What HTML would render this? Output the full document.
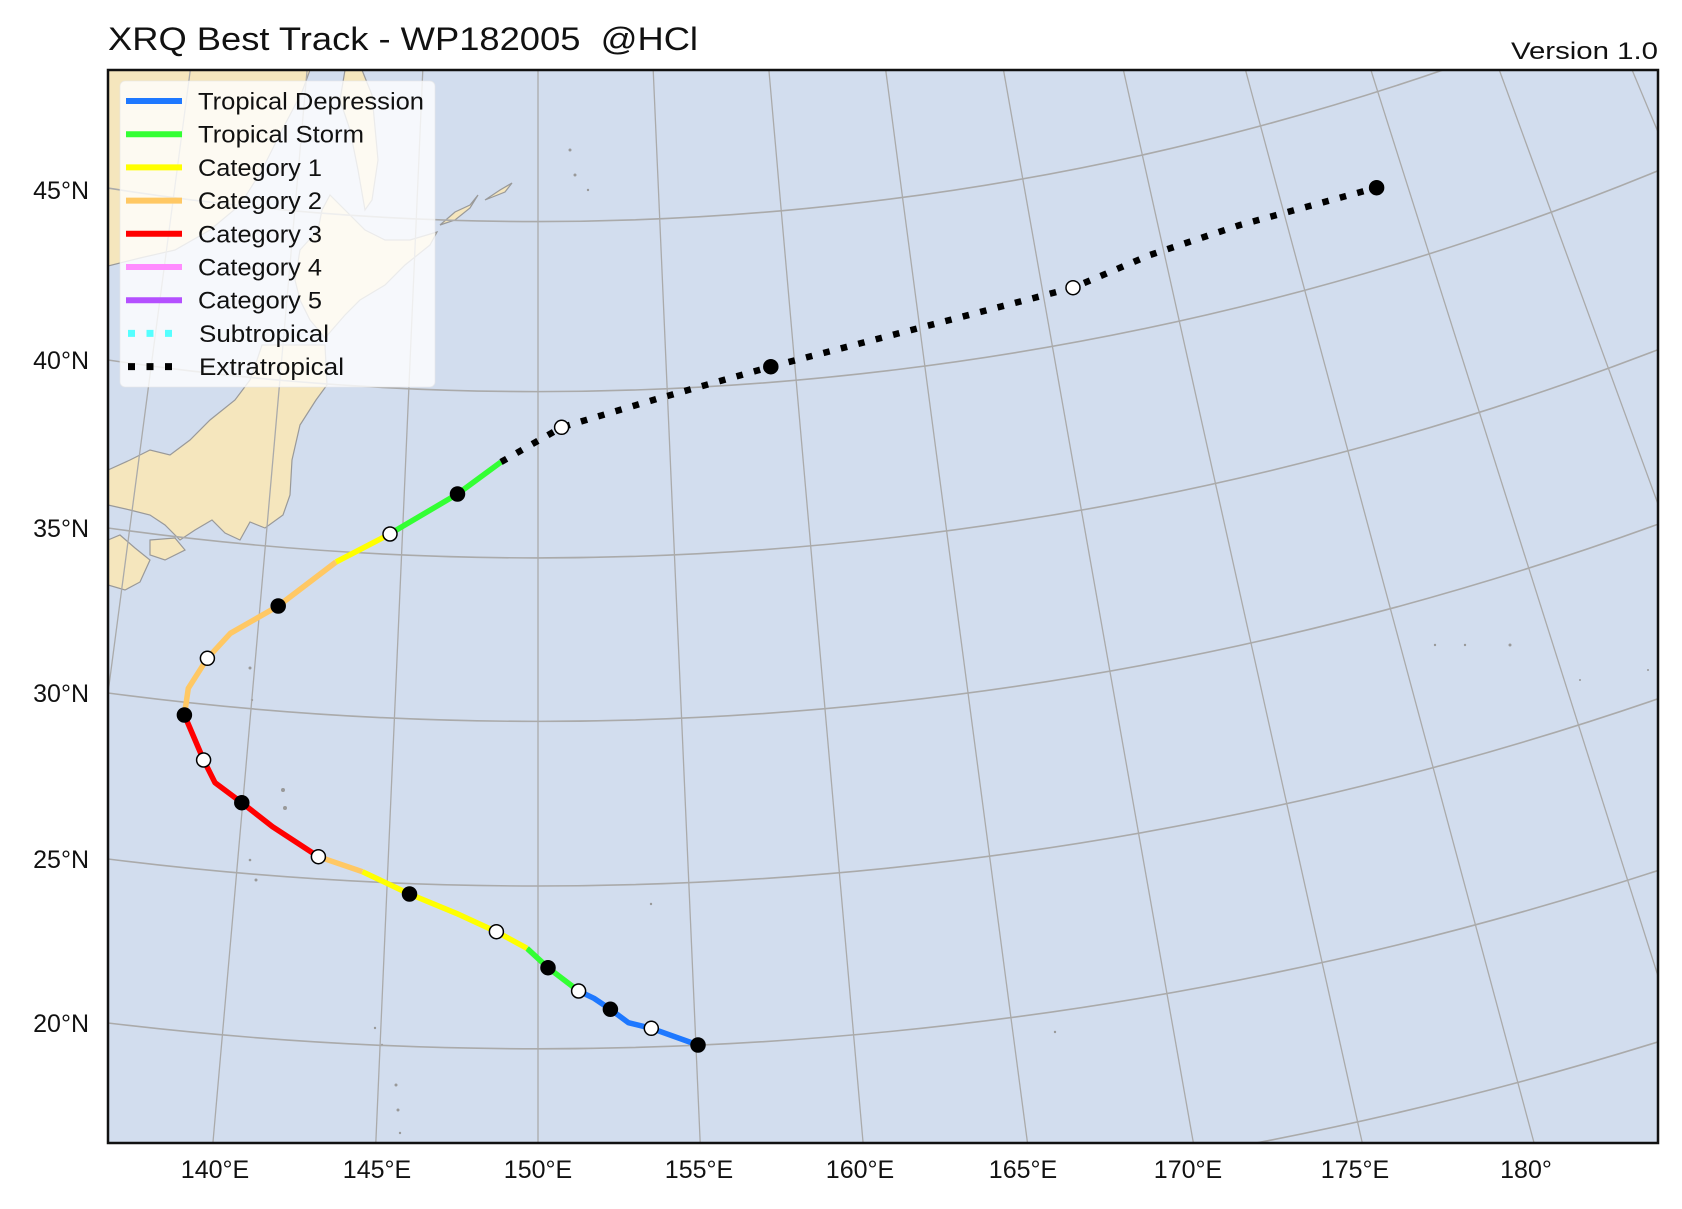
<!DOCTYPE html>
<html><head><meta charset="utf-8"><style>html,body{margin:0;padding:0;background:#fff;overflow:hidden;width:1682px;height:1209px}svg{display:block}text{font-family:"Liberation Sans",sans-serif}</style></head><body>
<svg width="1682" height="1209" viewBox="0 0 1682 1209" xmlns="http://www.w3.org/2000/svg">
<defs><clipPath id="c"><rect x="108" y="70" width="1550" height="1073"/></clipPath></defs>
<rect width="1682" height="1209" fill="#fff"/>
<g clip-path="url(#c)">
<rect x="108" y="70" width="1550" height="1073" fill="#d2ddee"/>
<g fill="#f5e6bd" stroke="#999" stroke-width="1.2">
<path d="M108,70 L310,70 L302,92 L282,130 L262,170 L240,205 L210,230 L175,250 L140,258 L108,266 Z"/>
<path d="M345,70 L362,70 L372,95 L378,160 L372,200 L365,210 L358,170 L350,130 L340,100 Z"/>
<path d="M330,195 L345,210 L365,230 L385,240 L410,240 L437,232 L430,245 L405,265 L385,285 L360,300 L345,315 L325,338 L310,320 L300,300 L295,280 L300,250 L318,230 L322,210 Z"/>
<path d="M440,225 L455,212 L470,205 L478,195 L470,208 L455,220 Z"/>
<path d="M485,200 L500,190 L512,183 L505,192 Z"/>
<path d="M262,345 L325,345 L327,385 L316,400 L300,425 L292,460 L290,495 L283,515 L265,528 L250,522 L240,540 L225,533 L212,520 L195,530 L180,540 L165,525 L150,515 L130,510 L108,505 L108,470 L130,460 L150,450 L170,455 L190,440 L210,420 L235,400 L250,380 L257,360 Z"/>
<path d="M108,540 L120,535 L135,548 L150,560 L140,582 L125,590 L108,585 Z"/>
<path d="M150,540 L175,538 L185,550 L165,560 L150,555 Z"/>
</g>
<g fill="#999">
<circle cx="250" cy="668" r="1.5"/><circle cx="252" cy="700" r="1.2"/><circle cx="283" cy="790" r="2"/><circle cx="285" cy="808" r="2"/><circle cx="250" cy="860" r="1.3"/><circle cx="256" cy="880" r="1.5"/><circle cx="651" cy="904" r="1.2"/><circle cx="1435" cy="645" r="1.2"/><circle cx="1465" cy="645" r="1.2"/><circle cx="1510" cy="645" r="1.5"/><circle cx="1580" cy="680" r="1"/><circle cx="1648" cy="670" r="1"/><circle cx="1055" cy="1032" r="1.2"/><circle cx="375" cy="1028" r="1.2"/><circle cx="382" cy="1045" r="1.2"/><circle cx="396" cy="1085" r="1.5"/><circle cx="398" cy="1110" r="1.5"/><circle cx="400" cy="1133" r="1.2"/><circle cx="570" cy="150" r="1.5"/><circle cx="575" cy="175" r="1.5"/><circle cx="588" cy="190" r="1.2"/>
</g>
<g fill="none" stroke="#aaa" stroke-width="1.6">
<path d="M108,188.1 A2781.5,2781.5 0 0 0 1443,70"/>
<path d="M108,360 A2951.5,2951.5 0 0 0 1658,170.8"/>
<path d="M108,528 A3117.8,3117.8 0 0 0 1658,349.7"/>
<path d="M108,693 A3281.3,3281.3 0 0 0 1658,524.2"/>
<path d="M108,859 A3445.9,3445.9 0 0 0 1658,698.8"/>
<path d="M108,1023 A3608.7,3608.7 0 0 0 1658,870.5"/>
<path d="M1256,1143 A3772,3772 0 0 0 1658,1041.9"/>
</g>
<g stroke="#aaa" stroke-width="1.3">
<line x1="190.3" y1="70" x2="108" y2="693"/>
<line x1="307.1" y1="70" x2="212.9" y2="1143"/>
<line x1="422.8" y1="70" x2="375.8" y2="1143"/>
<line x1="538" y1="70" x2="538" y2="1143"/>
<line x1="653.2" y1="70" x2="700.2" y2="1143"/>
<line x1="768.9" y1="70" x2="863.1" y2="1143"/>
<line x1="885.7" y1="70" x2="1027.5" y2="1143"/>
<line x1="1003.5" y1="70" x2="1193.4" y2="1143"/>
<line x1="1123.4" y1="70" x2="1362.3" y2="1143"/>
<line x1="1245.5" y1="70" x2="1534.1" y2="1143"/>
<line x1="1370.9" y1="70" x2="1658" y2="976"/>
<line x1="1499.3" y1="70" x2="1658" y2="504"/>
<line x1="1632.1" y1="70" x2="1658" y2="132"/>
</g>
<g fill="none" stroke-width="5.5" stroke-linejoin="round" stroke-linecap="butt">
<polyline stroke="#1e78ff" points="698,1045 651.3,1028.3 628.4,1022.7 610.4,1009.3 594,998.3 578.6,991"/>
<polyline stroke="#33ff33" points="578.6,991 548,967.7 527,948.3"/>
<polyline stroke="#ffff00" points="527,948.3 496.4,931.7 456.2,913.3 409.5,894 362.4,871.7"/>
<polyline stroke="#ffc864" points="362.4,871.7 318.4,856.7"/>
<polyline stroke="#ff0000" points="318.4,856.7 272.5,826.7 241.8,802.7 215,782.7 203.6,760 184.4,715"/>
<polyline stroke="#ffc864" points="184.4,715 188.3,688.3 207.4,658.3 230.4,633.3 278.2,606 336,562"/>
<polyline stroke="#ffff00" points="336,562 390,534 393,532"/>
<polyline stroke="#33ff33" points="393,532 457.5,494 501,462"/>
<polyline stroke="#000" stroke-width="6.5" stroke-dasharray="6.5 11.5" points="501,462 561.6,427.3 660,398 770.8,366.7 900,333 1073,287.7 1150,255 1240,225 1376.6,187.7"/>
</g>
<g stroke="#000" stroke-width="1.5">
<circle cx="698" cy="1045" r="7" fill="#000"/><circle cx="651.3" cy="1028.3" r="7" fill="#fff"/><circle cx="610.4" cy="1009.3" r="7" fill="#000"/><circle cx="578.6" cy="991" r="7" fill="#fff"/><circle cx="548" cy="967.7" r="7" fill="#000"/><circle cx="496.4" cy="931.7" r="7" fill="#fff"/><circle cx="409.5" cy="894" r="7" fill="#000"/><circle cx="318.4" cy="856.7" r="7" fill="#fff"/><circle cx="241.8" cy="802.7" r="7" fill="#000"/><circle cx="203.6" cy="760" r="7" fill="#fff"/><circle cx="184.4" cy="715" r="7" fill="#000"/><circle cx="207.4" cy="658.3" r="7" fill="#fff"/><circle cx="278.2" cy="606" r="7" fill="#000"/><circle cx="390" cy="534" r="7" fill="#fff"/><circle cx="457.5" cy="494" r="7" fill="#000"/><circle cx="561.6" cy="427.3" r="7" fill="#fff"/><circle cx="770.8" cy="366.7" r="7" fill="#000"/><circle cx="1073" cy="287.7" r="7" fill="#fff"/><circle cx="1376.6" cy="187.7" r="7" fill="#000"/>
</g>
<rect x="120" y="81" width="315" height="306" rx="5" fill="#fff" fill-opacity="0.8" stroke="#e6e6e6" stroke-opacity="0.6"/>
<g stroke-width="6">
<line x1="126" y1="101" x2="182" y2="101" stroke="#1e78ff"/>
<line x1="126" y1="134.2" x2="182" y2="134.2" stroke="#33ff33"/>
<line x1="126" y1="167.4" x2="182" y2="167.4" stroke="#ffff00"/>
<line x1="126" y1="200.6" x2="182" y2="200.6" stroke="#ffc864"/>
<line x1="126" y1="233.8" x2="182" y2="233.8" stroke="#ff0000"/>
<line x1="126" y1="267" x2="182" y2="267" stroke="#ff8cff"/>
<line x1="126" y1="300.2" x2="182" y2="300.2" stroke="#b450ff"/>
<line x1="128" y1="333.4" x2="182" y2="333.4" stroke="#55ffff" stroke-width="7" stroke-dasharray="7 11.5"/>
<line x1="128" y1="366.6" x2="182" y2="366.6" stroke="#000" stroke-width="7" stroke-dasharray="7 11.5"/>
</g>
<g font-size="24" fill="#111">
<text x="198" y="109.5" textLength="226" lengthAdjust="spacingAndGlyphs">Tropical Depression</text>
<text x="198" y="142.7" textLength="166" lengthAdjust="spacingAndGlyphs">Tropical Storm</text>
<text x="198" y="175.9" textLength="124" lengthAdjust="spacingAndGlyphs">Category 1</text>
<text x="198" y="209.1" textLength="124" lengthAdjust="spacingAndGlyphs">Category 2</text>
<text x="198" y="242.3" textLength="124" lengthAdjust="spacingAndGlyphs">Category 3</text>
<text x="198" y="275.5" textLength="124" lengthAdjust="spacingAndGlyphs">Category 4</text>
<text x="198" y="308.7" textLength="124" lengthAdjust="spacingAndGlyphs">Category 5</text>
<text x="199" y="341.9" textLength="130" lengthAdjust="spacingAndGlyphs">Subtropical</text>
<text x="199" y="375.1" textLength="145" lengthAdjust="spacingAndGlyphs">Extratropical</text>
</g>
</g>
<rect x="108" y="70" width="1550" height="1073" fill="none" stroke="#111" stroke-width="2.5"/>
<text x="108" y="50" font-size="32" fill="#111" xml:space="preserve" textLength="590" lengthAdjust="spacingAndGlyphs">XRQ Best Track - WP182005  @HCl</text>
<text x="1658" y="59" font-size="24" fill="#111" text-anchor="end" textLength="147" lengthAdjust="spacingAndGlyphs">Version 1.0</text>
<g font-size="25" fill="#111" text-anchor="end">
<text x="89" y="199">45°N</text><text x="89" y="369">40°N</text><text x="89" y="537">35°N</text><text x="89" y="702">30°N</text><text x="89" y="868">25°N</text><text x="89" y="1032">20°N</text>
</g>
<g font-size="25" fill="#111" text-anchor="middle">
<text x="215" y="1178">140°E</text><text x="377" y="1178">145°E</text><text x="538" y="1178">150°E</text><text x="699" y="1178">155°E</text><text x="860" y="1178">160°E</text><text x="1023" y="1178">165°E</text><text x="1188" y="1178">170°E</text><text x="1355" y="1178">175°E</text><text x="1526" y="1178">180°</text>
</g>
</svg>
</body></html>
